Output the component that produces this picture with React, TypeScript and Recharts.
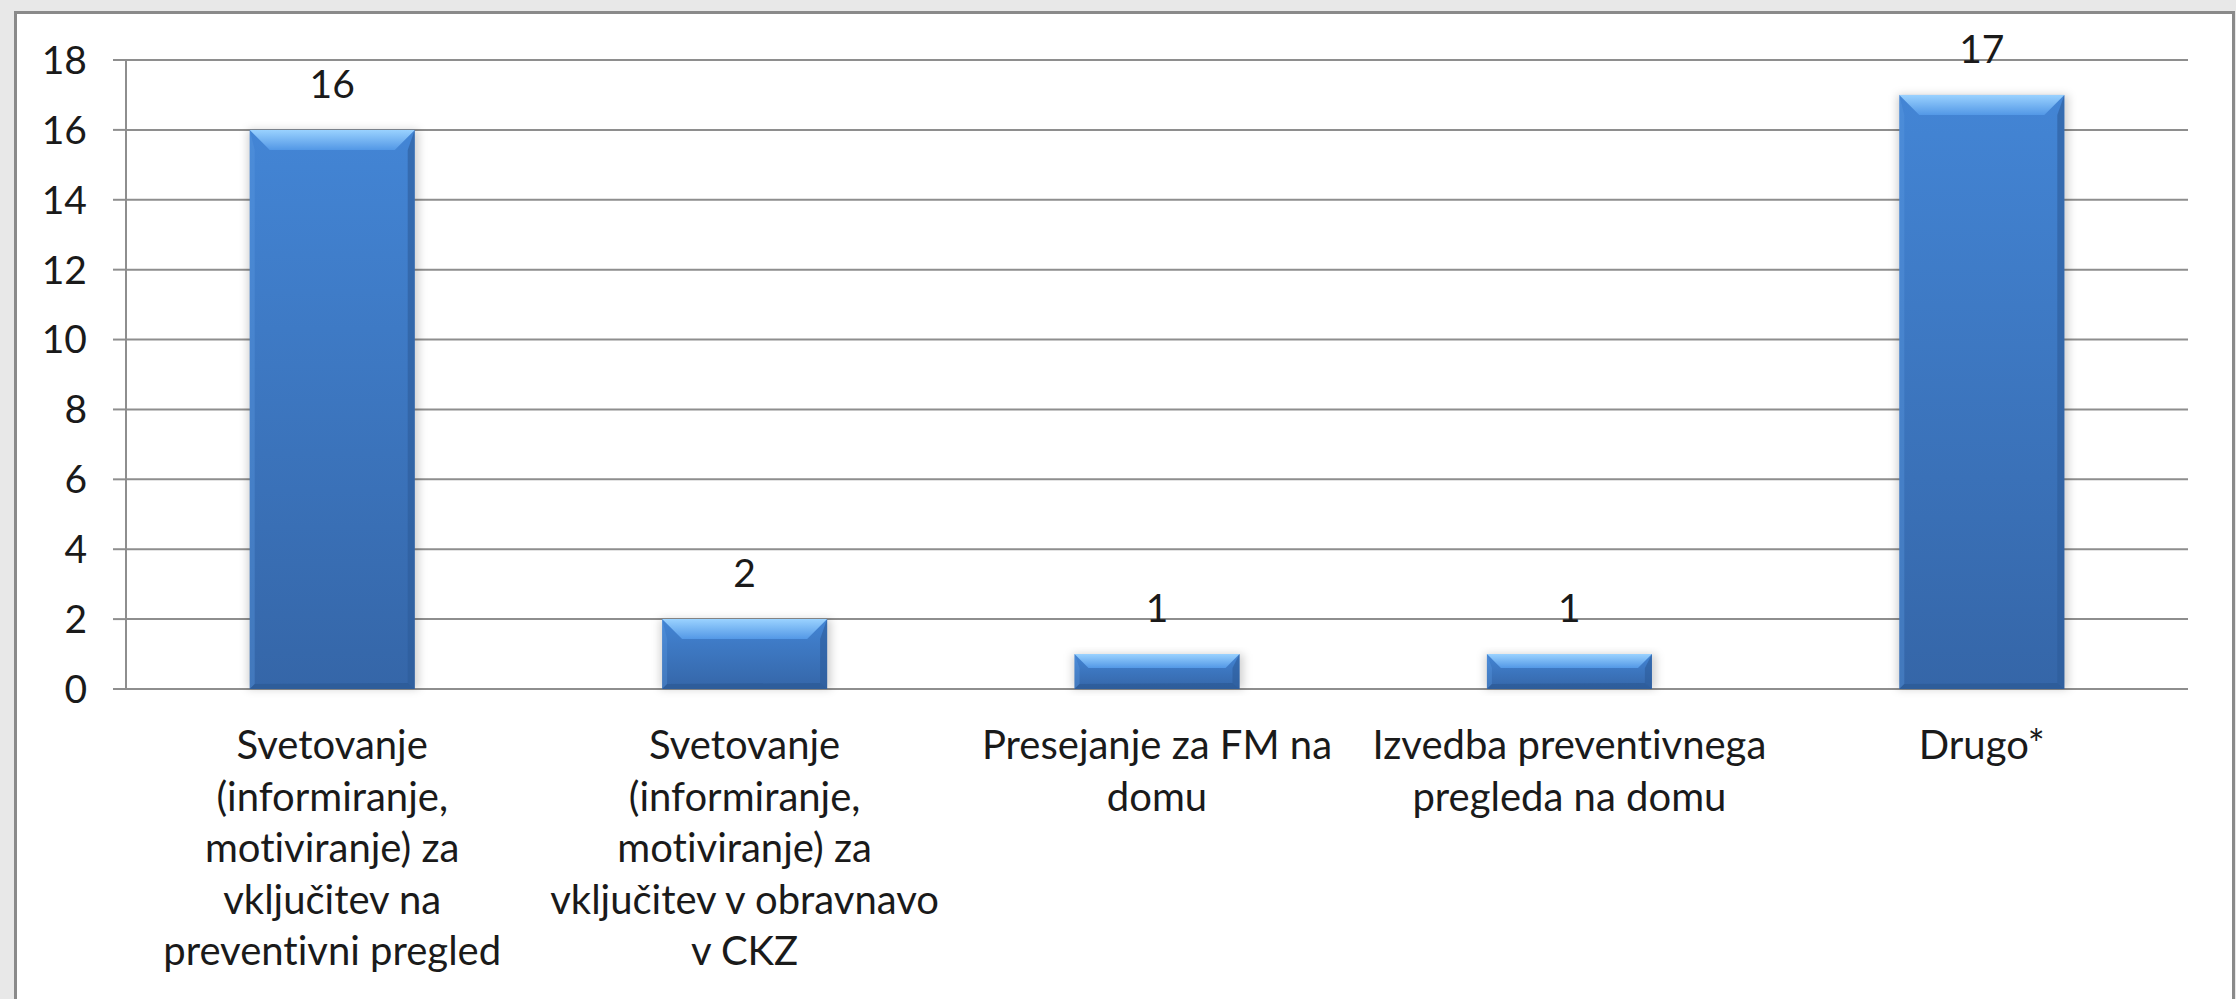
import { Bar, BarChart, CartesianGrid, LabelList, XAxis, YAxis } from "recharts"

const categories = [
  "Svetovanje\n(informiranje,\nmotiviranje) za\nvključitev na\npreventivni pregled",
  "Svetovanje\n(informiranje,\nmotiviranje) za\nvključitev v obravnavo\nv CKZ",
  "Presejanje za FM na\ndomu",
  "Izvedba preventivnega\npregleda na domu",
  "Drugo*",
]
const counts = [16, 2, 1, 1, 17]
const yTicks = [0, 2, 4, 6, 8, 10, 12, 14, 16, 18]
const edgeTicks = [0, 1, 2, 3, 4, 5]

const data = categories.map((name, i) => ({ name, value: counts[i] }))

const FONT = "Lato, 'Open Sans', sans-serif"
const GRID = "#8e8e8e"
const INK = "#1a1a1a"

function BevelBar(props: any) {
  const { x, y, width, height, index } = props
  if (!height || height <= 0) return null
  const b = Math.min(20, height * 0.4)
  const id = `bb${index}`
  return (
    <g>
      <defs>
        <linearGradient id={`${id}body`} x1="0" y1="0" x2="0" y2="1">
          <stop offset="0%" stopColor="#4385d5" />
          <stop offset="100%" stopColor="#3566a8" />
        </linearGradient>
        <linearGradient id={`${id}top`} x1="0" y1="0" x2="0" y2="1">
          <stop offset="0%" stopColor="#9ad2ff" />
          <stop offset="100%" stopColor="#5398e6" />
        </linearGradient>
        <filter id={`${id}sh`} x="-20%" y="-20%" width="140%" height="140%">
          <feGaussianBlur stdDeviation="4" />
        </filter>
      </defs>
      <rect x={x - 2} y={y} width={width + 6} height={height} fill="rgba(0,0,0,0.18)" filter={`url(#${id}sh)`} />
      <rect x={x} y={y} width={width} height={height} fill={`url(#${id}body)`} />
      <polygon
        points={`${x},${y} ${x + width},${y} ${x + width - b},${y + b} ${x + b},${y + b}`}
        fill={`url(#${id}top)`}
      />
      <polygon
        points={`${x + width},${y} ${x + width},${y + height} ${x + width - 7},${y + height - 6} ${x + width - 7},${y + b}`}
        fill="#2d5c9a"
        opacity={0.6}
      />
      <polygon
        points={`${x},${y} ${x + 5},${y + b} ${x + 5},${y + height - 5} ${x},${y + height}`}
        fill="#5b9be3"
        opacity={0.35}
      />
      <polygon
        points={`${x},${y + height} ${x + width},${y + height} ${x + width - 7},${y + height - 6} ${x + 5},${y + height - 5}`}
        fill="#2a5791"
        opacity={0.6}
      />
    </g>
  )
}

function CategoryTick(props: any) {
  const { x, y, payload } = props
  const lines = String(payload.value).split("\n")
  return (
    <text
      x={x}
      y={y + 70}
      textAnchor="middle"
      fontFamily={FONT}
      fontSize={40}
      fill={INK}
      style={{ fontVariantLigatures: "none" }}
    >
      {lines.map((line, i) => (
        <tspan key={i} x={x} dy={i === 0 ? 0 : 51.5}>
          {line}
        </tspan>
      ))}
    </text>
  )
}

export default function App() {
  return (
    <div style={{ position: "absolute", left: 0, top: 0, width: 2236, height: 999, background: "#e8e8e8", overflow: "hidden" }}>
      <div
        style={{
          position: "absolute",
          left: 14,
          top: 11,
          width: 2215,
          height: 1100,
          background: "#ffffff",
          border: "3px solid #8a8a8a",
        }}
      />
      <div style={{ position: "absolute", left: 0, top: 0 }}>
        <BarChart
          width={2236}
          height={999}
          data={data}
          margin={{ top: 60, right: 48, bottom: 0, left: 0 }}
          barCategoryGap="30%"
        >
          <CartesianGrid xAxisId="cat" vertical={false} stroke={GRID} strokeWidth={2} />
          <XAxis
            xAxisId="edge"
            type="number"
            domain={[0, 5]}
            ticks={edgeTicks}
            tick={false}
            tickSize={16}
            height={0}
            axisLine={{ stroke: GRID, strokeWidth: 2 }}
            tickLine={{ stroke: GRID, strokeWidth: 2 }}
            allowDataOverflow
          />
          <XAxis
            xAxisId="cat"
            dataKey="name"
            interval={0}
            axisLine={false}
            tickLine={false}
            tickSize={0}
            tickMargin={0}
            height={310}
            tick={<CategoryTick />}
          />
          <YAxis
            domain={[0, 18]}
            ticks={yTicks}
            width={126}
            tickSize={13}
            tickMargin={26}
            interval={0}
            axisLine={{ stroke: GRID, strokeWidth: 2 }}
            tickLine={{ stroke: GRID, strokeWidth: 2 }}
            tick={{ fontFamily: FONT, fontSize: 39, fill: INK }}
          />
          <Bar xAxisId="cat" dataKey="value" shape={<BevelBar />} isAnimationActive={false}>
            <LabelList dataKey="value" position="top" offset={32} fontFamily={FONT} fontSize={39} fill={INK} />
          </Bar>
        </BarChart>
      </div>
    </div>
  )
}
